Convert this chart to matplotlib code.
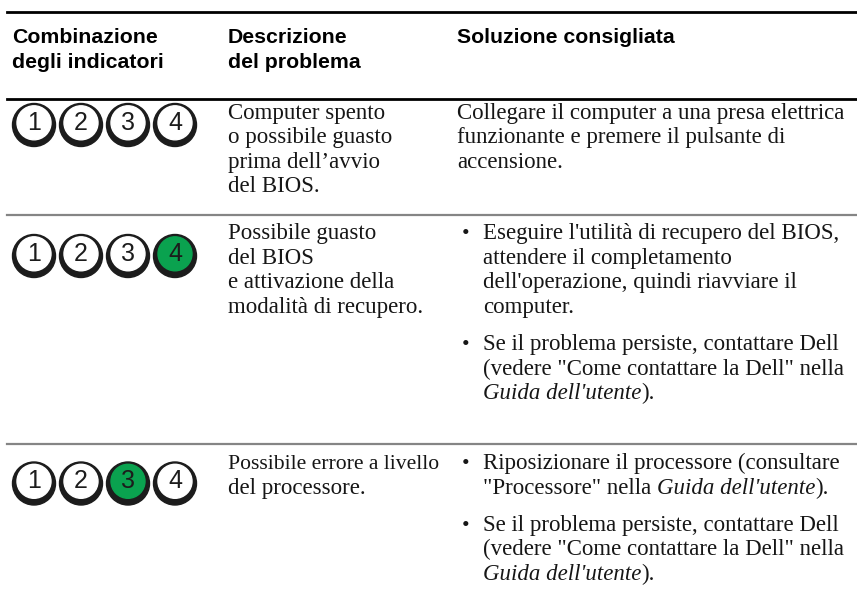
from matplotlib import pyplot as plt
from matplotlib.patches import Circle

# intestazioni delle colonne
intestazioni = [
    ["Combinazione", "degli indicatori"],
    ["Descrizione", "del problema"],
    ["Soluzione consigliata"],
]

# indicatore acceso (verde) per ogni riga, 0 = nessuno
led_acceso = [0, 4, 3]

descrizioni = [
    ["Computer spento", "o possibile guasto", "prima dell\u2019avvio", "del BIOS."],
    ["Possibile guasto", "del BIOS", "e attivazione della", "modalit\u00e0 di recupero."],
    ["Possibile errore a livello", "del processore."],
]

# ogni soluzione: lista di punti elenco, ogni punto lista di righe,
# ogni riga lista di segmenti (testo, corsivo)
soluzioni = [
    [None, [[("Collegare il computer a una presa elettrica", False)],
            [("funzionante e premere il pulsante di", False)],
            [("accensione.", False)]]],
    ["\u2022", [[("Eseguire l'utilit\u00e0 di recupero del BIOS,", False)],
                [("attendere il completamento", False)],
                [("dell'operazione, quindi riavviare il", False)],
                [("computer.", False)]]],
    ["\u2022", [[("Se il problema persiste, contattare Dell", False)],
                [("(vedere \"Come contattare la Dell\" nella", False)],
                [("Guida dell'utente", True), (").", False)]]],
    ["\u2022", [[("Riposizionare il processore (consultare", False)],
                [("\"Processore\" nella ", False), ("Guida dell'utente", True), (").", False)]]],
    ["\u2022", [[("Se il problema persiste, contattare Dell", False)],
                [("(vedere \"Come contattare la Dell\" nella", False)],
                [("Guida dell'utente", True), (").", False)]]],
]
soluzioni_riga = [[0], [1, 2], [3, 4]]

W, H = 857, 601
fig = plt.figure(figsize=(W / 100, H / 100), dpi=100)
ax = fig.add_axes([0, 0, 1, 1])
ax.set_xlim(0, W)
ax.set_ylim(H, 0)
ax.axis('off')

serif = ['Liberation Serif', 'DejaVu Serif']
sans = ['Liberation Sans', 'DejaVu Sans']
fs_testo = 16.5
interlinea = 24.6
stacco = 12.7

col_x = [12, 228, 457]
bullet_x = 466
bullet_testo_x = 483

# linee orizzontali
ax.plot([7, W], [12, 12], color='black', lw=2.0)
ax.plot([7, W], [99, 99], color='black', lw=2.0)
for y in [215, 444]:
    ax.plot([7, W], [y, y], color='#858585', lw=1.6)

# intestazioni
for x, righe in zip(col_x, intestazioni):
    for k, r in enumerate(righe):
        ax.text(x, 43 + k * 25, r, family=sans, weight='bold',
                fontsize=15.3, va='baseline', ha='left', color='black')

renderer = fig.canvas.get_renderer()


def scrivi_riga(x, y, segmenti, fs=fs_testo):
    for testo, corsivo in segmenti:
        t = ax.text(x, y, testo, family=serif, fontsize=fs,
                    style='italic' if corsivo else 'normal',
                    va='baseline', ha='left', color='#161616')
        bb = t.get_window_extent(renderer=renderer)
        x += bb.width


righe_y = [118.5, 239, 469]
led_y = [125, 256, 483.5]
led_x = [34, 81, 128, 175]

for i in range(3):
    # indicatori
    for n, cx in enumerate(led_x, start=1):
        cy = led_y[i]
        ax.add_patch(Circle((cx, cy), 21.5, color='#1c1c1c', zorder=3))
        colore = '#0aa24f' if led_acceso[i] == n else 'white'
        ax.add_patch(Circle((cx, cy - 2.2), 17, color=colore, zorder=4))
        ax.text(cx, cy - 2.2, str(n), family=sans,
                fontsize=18, ha='center', va='center', color='#1c1c1c', zorder=5)

    # descrizione (riga lunga della colonna stretta leggermente piu' piccola)
    for k, r in enumerate(descrizioni[i]):
        fs = fs_testo - 0.9 if len(r) > 24 else fs_testo
        scrivi_riga(col_x[1], righe_y[i] + k * interlinea, [(r, False)], fs)

    # soluzione
    y = righe_y[i]
    for j in soluzioni_riga[i]:
        punto, righe = soluzioni[j]
        if punto is None:
            x0 = col_x[2]
        else:
            ax.text(bullet_x, y, punto, family=serif, fontsize=fs_testo - 1,
                    va='baseline', ha='center', color='#161616')
            x0 = bullet_testo_x
        for r in righe:
            scrivi_riga(x0, y, r)
            y += interlinea
        y += stacco

fig.savefig('out.png', dpi=100)
